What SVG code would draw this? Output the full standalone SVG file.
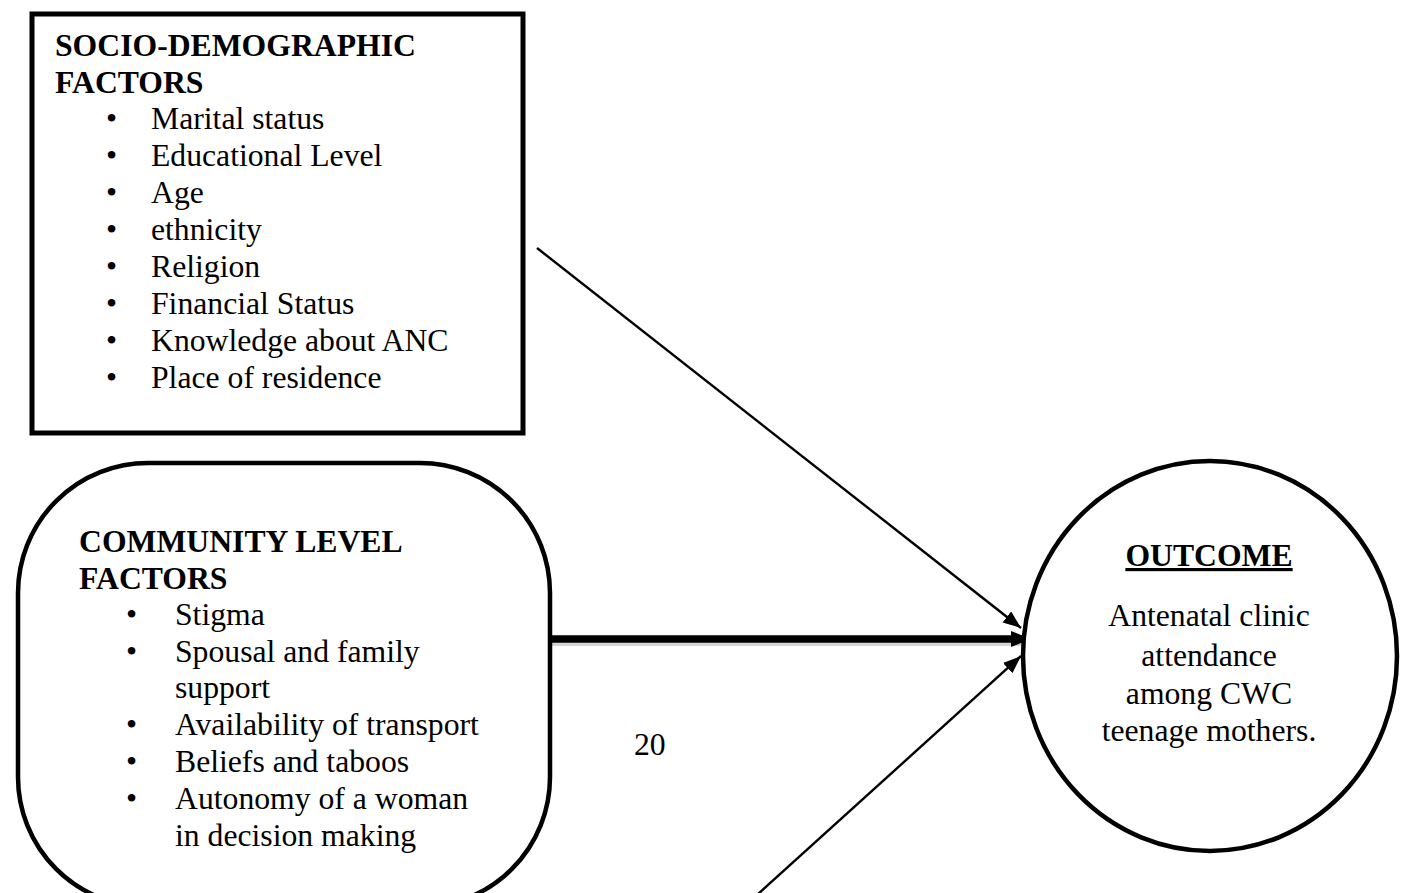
<svg xmlns="http://www.w3.org/2000/svg" width="1403" height="893" viewBox="0 0 1403 893">
<style>
text{font-family:"Liberation Serif","Times New Roman",serif;font-size:31.7px;fill:#000}
.b{font-weight:bold}
.c{text-anchor:middle}
.shape{fill:#fff;stroke:#000}
.thin{stroke:#000;stroke-width:2.4;fill:none}
</style>
<defs>
<marker id="ah" markerUnits="userSpaceOnUse" markerWidth="20" markerHeight="16" refX="18" refY="7" orient="auto">
<path d="M0,0 L18,7 L0,14 Z" fill="#000"/>
</marker>
<marker id="ahb" markerUnits="userSpaceOnUse" markerWidth="22" markerHeight="18" refX="20" refY="8" orient="auto">
<path d="M0,0 L20,8 L0,16 Z" fill="#000"/>
</marker>
</defs>
<rect width="1403" height="893" fill="#fff"/>
<g id="connectors">
<line class="thin" x1="537" y1="248" x2="1021" y2="628" marker-end="url(#ah)"/>
<line x1="552" y1="644" x2="1022" y2="644" stroke="#999" stroke-width="4" opacity="0.4"/>
<line x1="552" y1="639" x2="1031" y2="639" stroke="#000" stroke-width="7.5" marker-end="url(#ahb)"/>
<line class="thin" x1="757" y1="895" x2="1021" y2="656" marker-end="url(#ah)"/>
</g>
<g id="socio">
<rect class="shape" x="32" y="14" width="491" height="419" stroke-width="5"/>
<text class="b" x="55" y="56">SOCIO-DEMOGRAPHIC</text>
<text class="b" x="55" y="93">FACTORS</text>
<text x="106" y="129">•</text><text x="151" y="129">Marital status</text>
<text x="106" y="166">•</text><text x="151" y="166">Educational Level</text>
<text x="106" y="203">•</text><text x="151" y="203">Age</text>
<text x="106" y="240">•</text><text x="151" y="240">ethnicity</text>
<text x="106" y="277">•</text><text x="151" y="277">Religion</text>
<text x="106" y="314">•</text><text x="151" y="314">Financial Status</text>
<text x="106" y="351">•</text><text x="151" y="351">Knowledge about ANC</text>
<text x="106" y="388">•</text><text x="151" y="388">Place of residence</text>
</g>
<g id="community">
<rect class="shape" x="18" y="463" width="532" height="444" rx="130" ry="130" stroke-width="4.5"/>
<text class="b" x="79" y="552">COMMUNITY LEVEL</text>
<text class="b" x="79" y="589">FACTORS</text>
<text x="126" y="625">•</text><text x="175" y="625">Stigma</text>
<text x="126" y="662">•</text><text x="175" y="662">Spousal and family</text>
<text x="175" y="698">support</text>
<text x="126" y="735">•</text><text x="175" y="735">Availability of transport</text>
<text x="126" y="772">•</text><text x="175" y="772">Beliefs and taboos</text>
<text x="126" y="809">•</text><text x="175" y="809">Autonomy of a woman</text>
<text x="175" y="846">in decision making</text>
</g>
<g id="outcome">
<ellipse class="shape" cx="1210" cy="656" rx="187" ry="195" stroke-width="4.5"/>
<text class="b c" x="1209" y="566" text-decoration="underline">OUTCOME</text>
<text class="c" x="1209" y="626">Antenatal clinic</text>
<text class="c" x="1209" y="666">attendance</text>
<text class="c" x="1209" y="704">among CWC</text>
<text class="c" x="1209" y="741">teenage mothers.</text>
</g>
<text id="page-number" x="634" y="755">20</text>
</svg>
